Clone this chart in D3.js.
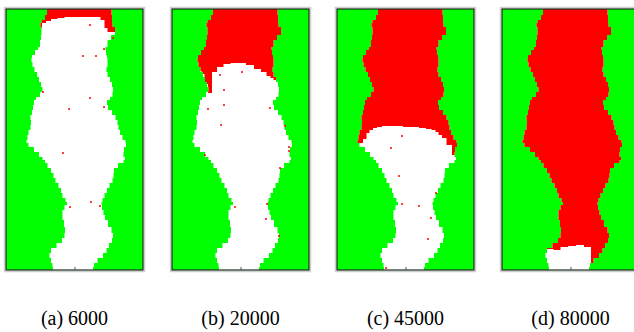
<!DOCTYPE html>
<html>
<head>
<meta charset="utf-8">
<script src="https://cdn.jsdelivr.net/npm/d3@7"></script>
<style>
  html, body { margin: 0; padding: 0; background: #fff; }
  svg { display: block; }
</style>
</head>
<body>
<div id="chart"></div>
<script>
// lattice rows (0 = top of the box, 261 = bottom) and the channel edges at each row
const rows = [0, 6, 11, 14, 18, 23, 26, 31, 38, 41, 46, 49, 53, 58, 63, 68, 73, 78, 83, 88, 91, 96, 101, 106, 111, 116, 121, 126, 131, 134, 138, 143, 148, 151, 154, 159, 164, 169, 174, 179, 184, 189, 193, 196, 201, 206, 211, 218, 224, 229, 234, 239, 244, 249, 254, 258, 261];
const leftEdge = [41, 41, 37, 34, 35, 36, 35, 35, 33, 31, 27, 25, 26, 27, 30, 32, 34, 36, 37, 31, 29, 27, 27, 25, 24, 26, 23, 22, 21, 20, 25, 31, 35, 38, 40, 43, 47, 48, 51, 54, 56, 57, 62, 60, 57, 56, 57, 59, 59, 58, 54, 47, 43, 44, 46, 47, 47];
const rightEdge = [105, 106, 106, 106, 107, 111, 107, 103, 100, 99, 101, 101, 102, 101, 100, 103, 105, 107, 107, 106, 102, 100, 104, 108, 111, 112, 113, 115, 118, 121, 119, 117, 118, 120, 115, 109, 107, 108, 105, 102, 100, 97, 96, 95, 97, 98, 100, 104, 107, 107, 105, 101, 100, 94, 89, 87, 87];

// red front depth (row) at each lattice column
const frontCols = [0, 20, 24, 28, 31, 34, 38, 42, 48, 55, 62, 70, 78, 86, 92, 97, 100, 103, 107, 112, 118, 125, 137];
const frontA = [0, 0, 20, 20, 20, 19, 14, 12, 10, 9, 8, 8, 8, 8, 8, 11, 19, 23, 23, 23, 0, 0, 0];
const frontB = [60, 60, 60, 62, 65, 75, 84, 63, 58, 55, 54, 54, 56, 60, 63, 67, 69, 71, 72, 75, 75, 75, 75];
const frontC = [136, 136, 134, 130, 124, 121, 119, 118, 117, 117, 117, 118, 118, 119, 120, 121, 123, 126, 129, 136, 146, 150, 150];
const frontD = [239, 239, 239, 239, 239, 239, 239, 239, 240, 241, 238, 237, 236, 238, 255, 261, 261, 261, 261, 261, 261, 261, 261];

// isolated red sites left behind in the white region
const dotsA = [[84, 16], [77, 47], [90, 47], [84, 89], [63, 100], [57, 144], [85, 193], [37, 83], [98, 40], [107, 29], [98, 98], [94, 197], [64, 198]];
const dotsB = [[75, 21], [63, 33], [70, 63], [48, 66], [52, 81], [52, 96], [36, 100], [49, 116], [113, 117], [117, 138], [117, 142], [33, 146], [108, 159], [63, 198], [95, 195], [107, 227], [94, 210], [98, 99]];
const dotsC = [[65, 127], [54, 139], [62, 167], [82, 197], [65, 195], [91, 230], [99, 184], [94, 209], [49, 259], [43, 100]];
const dotsD = [[69, 223]];

const labels = ['(a) 6000', '(b) 20000', '(c) 45000', '(d) 80000'];
const fronts = [frontA, frontB, frontC, frontD];
const dots = [dotsA, dotsB, dotsC, dotsD];

const width = 634;
const height = 332;
const panelLeft = [6, 172, 337, 502];
const panelTop = 9;
const pw = 137;
const ph = 261;

const svg = d3
  .select('#chart')
  .append('svg')
  .attr('width', width)
  .attr('height', height);

const x = d3.scaleLinear().domain([0, 137]).range([0, pw]);
const y = d3.scaleLinear().domain([0, 261]).range([0, ph]);

const channel = d3
  .area()
  .y((d, i) => y(rows[i]))
  .x0((d, i) => x(leftEdge[i]))
  .x1((d, i) => x(rightEdge[i]))
  .curve(d3.curveStep);

labels.forEach((label, p) => {
  const g = svg.append('g').attr('transform', `translate(${panelLeft[p]},${panelTop})`);

  // outer grey margin
  g.append('rect')
    .attr('x', -1.5)
    .attr('y', -1.5)
    .attr('width', pw + 3)
    .attr('height', ph + 3)
    .attr('fill', 'none')
    .attr('stroke', '#cfcfcf')
    .attr('stroke-width', 1.5);

  g.append('rect').attr('width', pw).attr('height', ph).attr('fill', '#00ff00');

  g.append('clipPath')
    .attr('id', `chan${p}`)
    .append('path')
    .attr('d', channel(rows));

  g.append('path').attr('d', channel(rows)).attr('fill', '#ffffff');

  const red = d3
    .area()
    .x((d, i) => x(frontCols[i]))
    .y0(0)
    .y1((d) => y(d))
    .curve(d3.curveStep);

  g.append('path')
    .attr('d', red(fronts[p]))
    .attr('fill', '#ff0000')
    .attr('clip-path', `url(#chan${p})`);

  g.selectAll('circle')
    .data(dots[p])
    .enter()
    .append('circle')
    .attr('cx', (d) => x(d[0]))
    .attr('cy', (d) => y(d[1]))
    .attr('r', 1)
    .attr('fill', '#ff0000');

  // frame
  g.append('rect')
    .attr('width', pw)
    .attr('height', ph)
    .attr('fill', 'none')
    .attr('stroke', '#1c2a1c')
    .attr('stroke-width', 1.2);

  const axis = g
    .append('g')
    .attr('transform', `translate(0,${ph})`)
    .call(d3.axisBottom(x).tickValues([68.5]).tickSize(-3).tickSizeOuter(0).tickFormat(''));
  axis.select('.domain').remove();
  axis.selectAll('line').attr('stroke', '#555');

  svg.append('text')
    .attr('x', panelLeft[p] + pw / 2)
    .attr('y', 325)
    .attr('text-anchor', 'middle')
    .attr('font-family', '"Liberation Serif", "Times New Roman", serif')
    .attr('font-size', 20)
    .attr('fill', '#000')
    .text(label);
});
</script>
</body>
</html>
